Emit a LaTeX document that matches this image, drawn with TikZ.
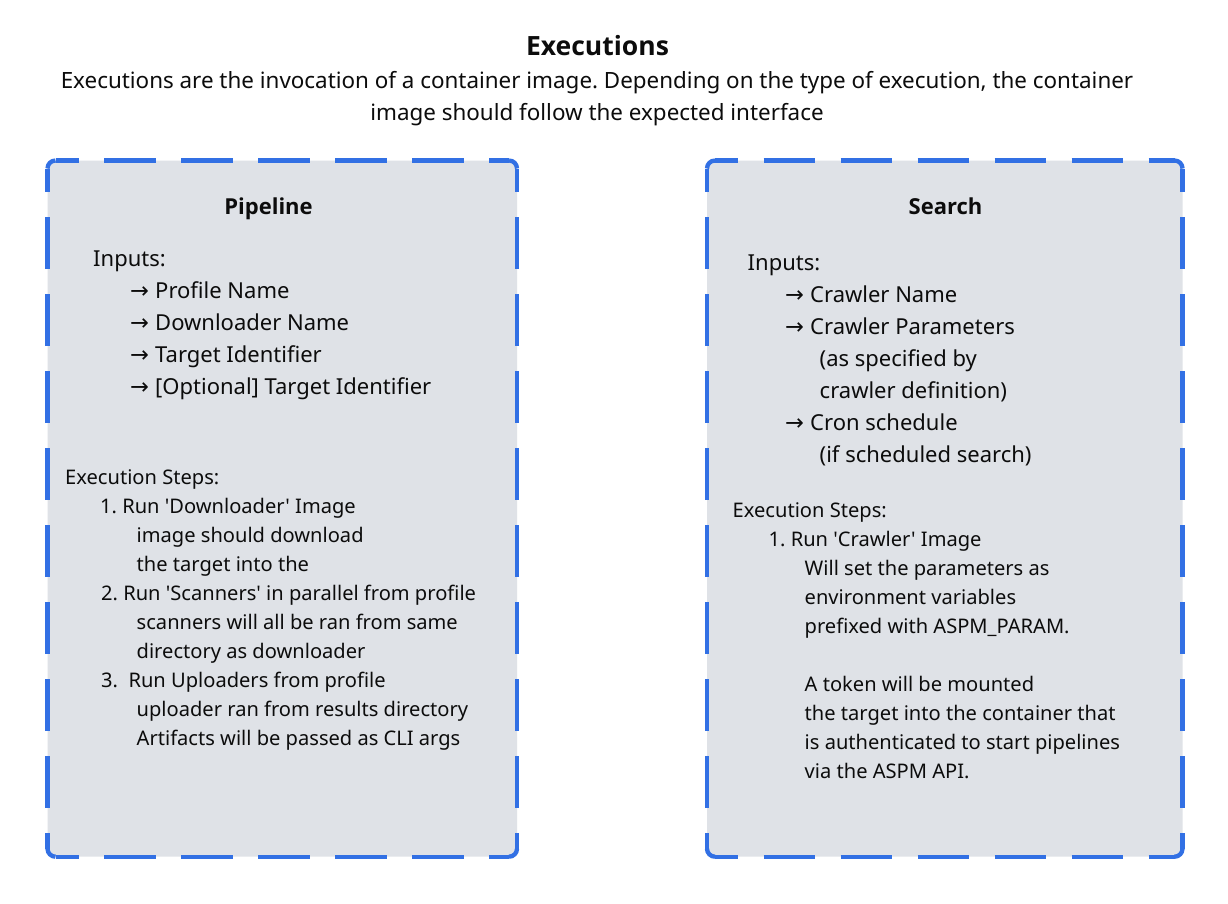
\documentclass[tikz,border=0pt]{standalone}
\usepackage{fontspec}
\setmainfont{Noto Sans}[Ligatures=TeXOff]
\newfontfamily\arrowfont{DejaVu Sans}
\newfontfamily\headfont{Open Sans}[Ligatures=TeXOff]
\definecolor{frameblue}{RGB}{50,112,228}
\definecolor{panelfill}{RGB}{223,226,231}
\definecolor{inkblack}{RGB}{12,12,12}
\frenchspacing

% arrow bullet used in the input lists
\newcommand\inarrow{\makebox[25pt][l]{\arrowfont\fontsize{22.5}{24}\selectfont →}}

% rounded panel: gray fill, solid corners, dashed straight edges
\newcommand\panelframe[4]{%
  \fill[panelfill, rounded corners=8pt] (#1,#2) rectangle (#3,#4);
  \draw[frameline, rounded corners=8pt] (#1,#2+8) -- (#1,#2) -- (#1+8,#2);
  \draw[frameline, rounded corners=8pt] (#3-8,#2) -- (#3,#2) -- (#3,#2+8);
  \draw[frameline, rounded corners=8pt] (#1,#4-8) -- (#1,#4) -- (#1+8,#4);
  \draw[frameline, rounded corners=8pt] (#3-8,#4) -- (#3,#4) -- (#3,#4-8);
  \draw[frameline, edgedash] (#1+8,#2) -- (#3-8,#2);
  \draw[frameline, edgedash] (#1+8,#4) -- (#3-8,#4);
  \draw[frameline, edgedash] (#1,#2+8) -- (#1,#4-8);
  \draw[frameline, edgedash] (#3,#2+8) -- (#3,#4-8);
}

\begin{document}
\begin{tikzpicture}[x=1pt, y=-1pt,
  frameline/.style={draw=frameblue, line width=4.3pt},
  edgedash/.style={dash pattern=on 51.5pt off 25.5pt, dash phase=28.5pt},
  maintitle/.style={font=\headfont\bfseries\fontsize{26.5}{30}\selectfont, text=inkblack, anchor=base, inner sep=0pt},
  lead/.style={font=\fontsize{22.4}{26}\selectfont, text=inkblack, anchor=base, inner sep=0pt},
  panelhead/.style={font=\headfont\bfseries\fontsize{22}{26}\selectfont, text=inkblack, anchor=base, inner sep=0pt},
  inputline/.style={font=\fontsize{22}{26}\selectfont, text=inkblack, anchor=base west, inner sep=0pt},
  stepline/.style={font=\fontsize{20.1}{24}\selectfont, text=inkblack, anchor=base west, inner sep=0pt}]

\useasboundingbox[fill=white] (0,0) rectangle (1228,903);

% heading
\node[maintitle] (title) at (597.5,55) {Executions};
\node[lead] (lead1) at (597,88.5) {Executions are the invocation of a container image. Depending on the type of execution, the container};
\node[lead] (lead2) at (597,120.5) {image should follow the expected interface};

% panels
\panelframe{47.5}{160.5}{517}{856.7}
\panelframe{707}{160.5}{1182.5}{856.7}
\coordinate (pipepanel) at (282.25,508.6);
\coordinate (searchpanel) at (944.75,508.6);

% Pipeline panel
\node[panelhead] (pipehead) at (268.5,214) {Pipeline};
\node[inputline] (pin) at (93,266) {Inputs:};
\node[inputline] (pin1) at (130,298) {\inarrow Profile Name};
\node[inputline] (pin2) at (130,330) {\inarrow Downloader Name};
\node[inputline] (pin3) at (130,362) {\inarrow Target Identifier};
\node[inputline] (pin4) at (130,394) {\inarrow [Optional] Target Identifier};

\node[stepline] (pst) at (65,484) {Execution Steps:};
\node[stepline] (pst1) at (100,513) {1. Run 'Downloader' Image};
\node[stepline] (pst1a) at (136.5,542) {image should download};
\node[stepline] (pst1b) at (136.5,571) {the target into the};
\node[stepline] (pst2) at (101,600) {2. Run 'Scanners' in parallel from profile};
\node[stepline] (pst2a) at (136.5,629) {scanners will all be ran from same};
\node[stepline] (pst2b) at (136.5,658) {directory as downloader};
\node[stepline] (pst3) at (101,687) {3.\ \ Run Uploaders from profile};
\node[stepline] (pst3a) at (136.5,716) {uploader ran from results directory};
\node[stepline] (pst3b) at (136.5,745) {Artifacts will be passed as CLI args};

% Search panel
\node[panelhead] (srchead) at (945.5,214) {Search};
\node[inputline] (sin) at (747.5,270) {Inputs:};
\node[inputline] (sin1) at (785,302) {\inarrow Crawler Name};
\node[inputline] (sin2) at (785,334) {\inarrow Crawler Parameters};
\node[inputline] (sin2a) at (819.5,366) {(as specified by};
\node[inputline] (sin2b) at (819.5,398) {crawler definition)};
\node[inputline] (sin3) at (785,430) {\inarrow Cron schedule};
\node[inputline] (sin3a) at (819.5,462) {(if scheduled search)};

\node[stepline] (sst) at (732.5,517) {Execution Steps:};
\node[stepline] (sst1) at (768.5,546) {1. Run 'Crawler' Image};
\node[stepline] (sst1a) at (804.5,575) {Will set the parameters as};
\node[stepline] (sst1b) at (804.5,604) {environment variables};
\node[stepline] (sst1c) at (804.5,633) {prefixed with ASPM\_PARAM.};
\node[stepline] (sst1d) at (804.5,691) {A token will be mounted};
\node[stepline] (sst1e) at (804.5,720) {the target into the container that};
\node[stepline] (sst1f) at (804.5,749) {is authenticated to start pipelines};
\node[stepline] (sst1g) at (804.5,778) {via the ASPM API.};

\end{tikzpicture}
\end{document}
